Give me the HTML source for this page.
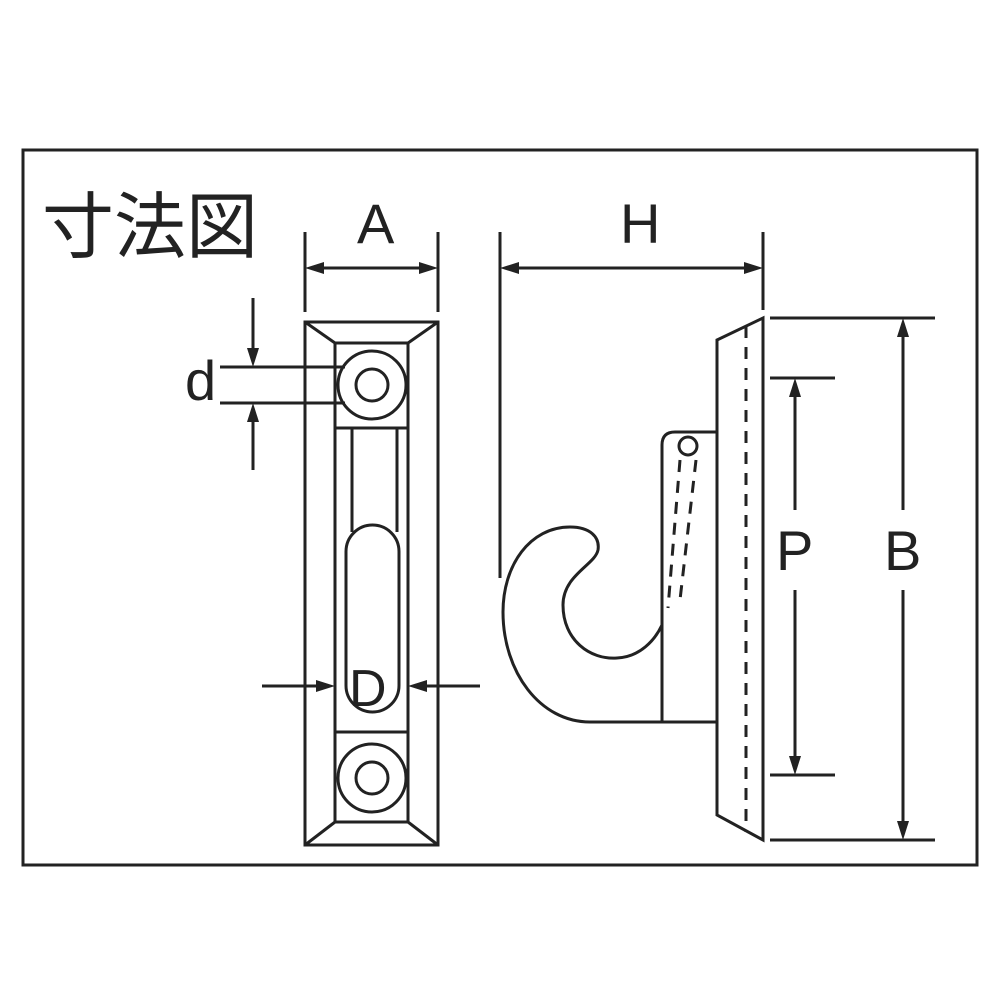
<!DOCTYPE html>
<html><head><meta charset="utf-8"><style>
html,body{margin:0;padding:0;background:#fff;}
svg{display:block;}
text{font-family:"Liberation Sans","Noto Sans CJK JP",sans-serif;fill:#222;}
</style></head><body>
<svg width="1000" height="1000" viewBox="0 0 1000 1000" xmlns="http://www.w3.org/2000/svg">
<defs>
<marker id="ar" viewBox="0 0 10 10" refX="10" refY="5" markerWidth="10" markerHeight="10" markerUnits="userSpaceOnUse" orient="auto-start-reverse">
</marker>
</defs>
<g fill="none" stroke="#222" stroke-width="3">
<rect x="23" y="150" width="954" height="715"/>
<!-- left view -->
<rect x="305" y="322" width="133" height="523"/>
<rect x="335" y="343" width="73" height="479"/>
<line x1="305" y1="322" x2="335" y2="343"/><line x1="438" y1="322" x2="408" y2="343"/>
<line x1="305" y1="845" x2="335" y2="822"/><line x1="438" y1="845" x2="408" y2="822"/>
<line x1="335" y1="428" x2="408" y2="428"/>
<line x1="335" y1="732" x2="408" y2="732"/>
<circle cx="372" cy="385" r="34"/><circle cx="372" cy="385" r="16"/>
<circle cx="372" cy="778" r="34"/><circle cx="372" cy="778" r="16"/>
<line x1="352" y1="428" x2="352" y2="532"/><line x1="397" y1="428" x2="397" y2="532"/>
<rect x="346" y="525" width="53" height="187" rx="26.5" ry="26.5"/>
<!-- d dims -->
<line x1="220" y1="367" x2="345" y2="367"/><line x1="220" y1="403" x2="345" y2="403"/>
<line x1="253" y1="298" x2="253" y2="350"/><line x1="253" y1="420" x2="253" y2="470"/>
<!-- D dims -->
<line x1="262" y1="686" x2="320" y2="686"/><line x1="423" y1="686" x2="480" y2="686"/>
<!-- A -->
<line x1="305" y1="232" x2="305" y2="312"/><line x1="438" y1="232" x2="438" y2="312"/>
<line x1="322" y1="268" x2="421" y2="268"/>
<!-- H -->
<line x1="500" y1="232" x2="500" y2="578"/><line x1="763" y1="232" x2="763" y2="310"/>
<line x1="517" y1="268" x2="746" y2="268"/>
<!-- plate -->
<polygon points="717,340 763,318 763,840 717,815"/>
<!-- bracket -->
<path d="M717,432 L675,432 Q662,432 662,445 L662,722 M590,722 L717,722"/>
<path d="M590,722 C540,722 503,672 503,612 C503,565 530,527 570,527 C590,527 600,537 598,550 C595,565 563,575 563,605 C563,640 590,660 617,658 C640,657 655,640 662,625"/>
<circle cx="688" cy="446" r="9"/>
<!-- B, P -->
<line x1="770" y1="318" x2="935" y2="318"/><line x1="770" y1="840" x2="935" y2="840"/>
<line x1="770" y1="378" x2="835" y2="378"/><line x1="770" y1="775" x2="835" y2="775"/>
<line x1="903" y1="335" x2="903" y2="510"/><line x1="903" y1="590" x2="903" y2="823"/>
<line x1="795" y1="395" x2="795" y2="510"/><line x1="795" y1="590" x2="795" y2="758"/>
</g>
<g fill="none" stroke="#222" stroke-width="3" stroke-dasharray="12,9">
<line x1="746" y1="326" x2="746" y2="832"/>
<line x1="680" y1="460" x2="668" y2="608"/>
<line x1="696" y1="460" x2="680" y2="600"/>
</g>
<g fill="#222">
<polygon points="305,268 324,262 324,274"/><polygon points="438,268 419,262 419,274"/>
<polygon points="500,268 519,262 519,274"/><polygon points="763,268 744,262 744,274"/>
<polygon points="253,367 247,348 259,348"/><polygon points="253,403 247,422 259,422"/>
<polygon points="335,686 316,680 316,692"/><polygon points="408,686 427,680 427,692"/>
<polygon points="903,318 897,337 909,337"/><polygon points="903,840 897,821 909,821"/>
<polygon points="795,378 789,397 801,397"/><polygon points="795,775 789,756 801,756"/>
</g>
<text x="42" y="252" font-size="72">寸法図</text>
<text x="357" y="243" font-size="56">A</text>
<text x="620" y="243" font-size="56">H</text>
<text x="185" y="400" font-size="56">d</text>
<text x="349" y="706" font-size="52">D</text>
<text x="776" y="570" font-size="56">P</text>
<text x="884" y="570" font-size="56">B</text>
</svg>
</body></html>
